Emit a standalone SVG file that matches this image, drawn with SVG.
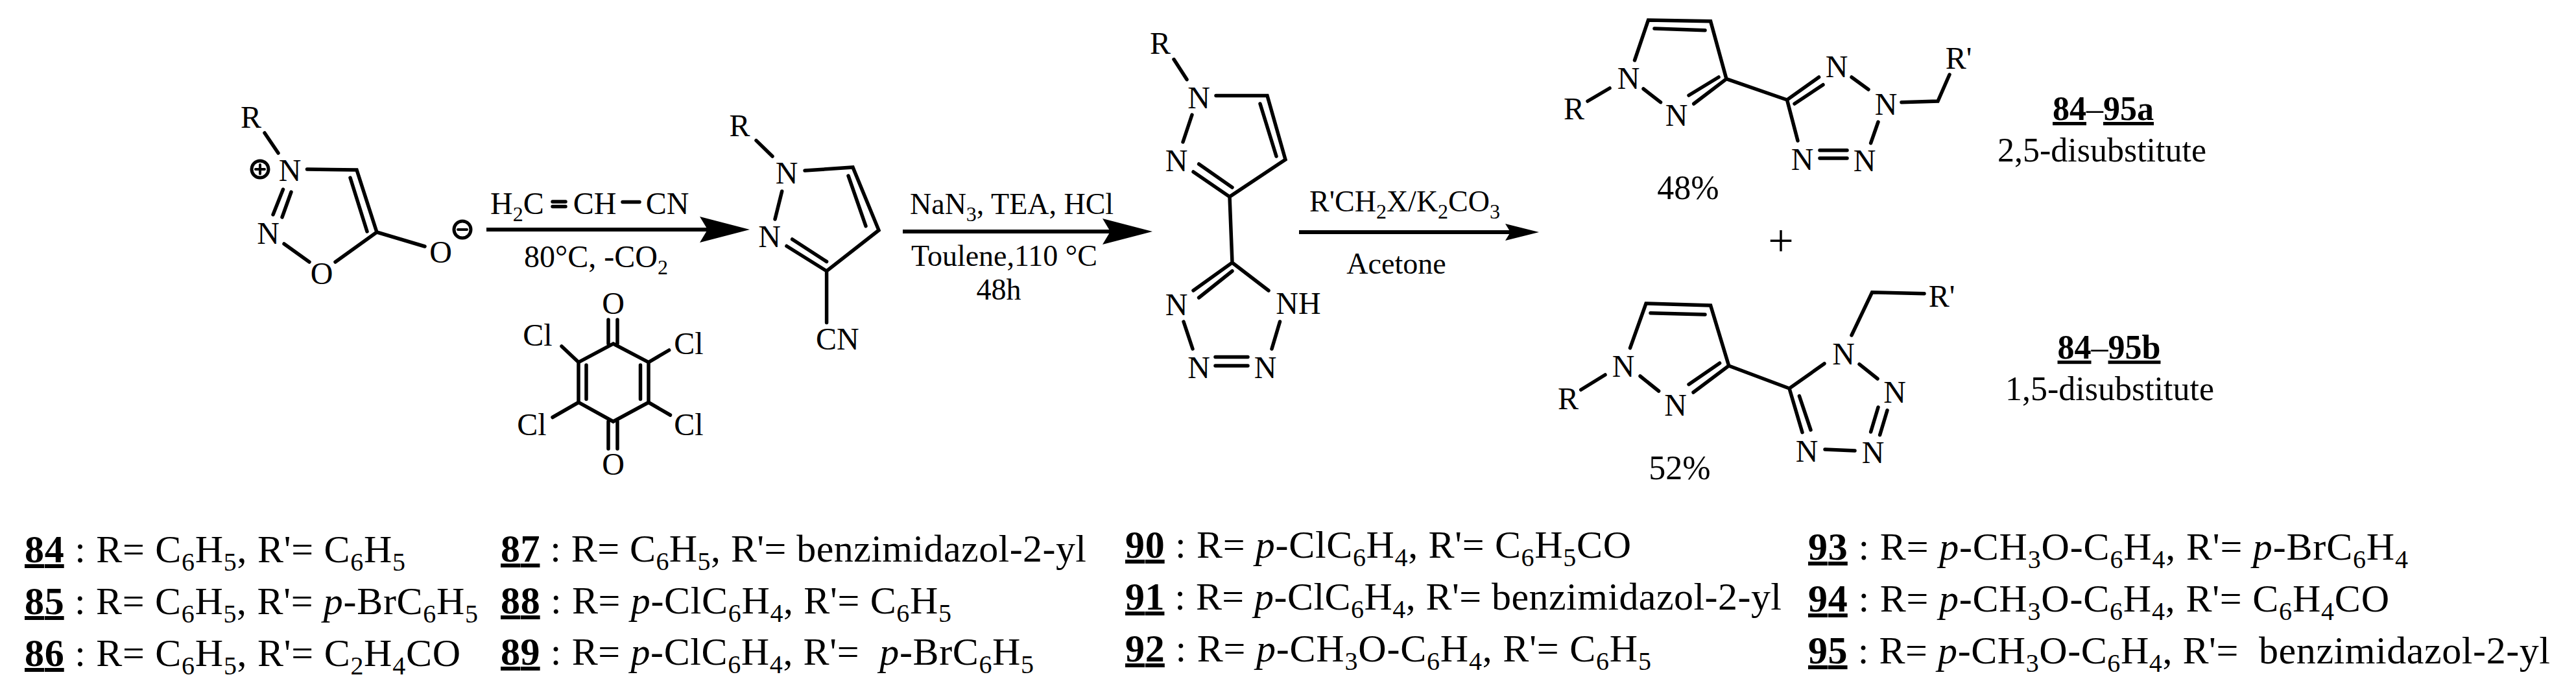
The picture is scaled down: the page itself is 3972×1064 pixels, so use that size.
<svg xmlns="http://www.w3.org/2000/svg" width="3972" height="1064" viewBox="0 0 3972 1064">
<style>
text{font-family:"Liberation Serif","Times New Roman",serif;fill:#000}
.a{font-size:48px;text-anchor:middle}
.r{font-size:46px}
.m{font-size:46px;text-anchor:middle}
.c{font-size:52px;text-anchor:middle}
.row{font-size:60px}
.b{font-weight:bold;text-decoration:underline;text-decoration-thickness:6px;text-underline-offset:5px}
.i{font-style:italic}
.s{font-size:40px}
.u{font-size:32px}
.bond{fill:none;stroke:#000;stroke-width:5.5;stroke-linecap:round;stroke-linejoin:miter}
.ch{fill:#fff;stroke:#000;stroke-width:5}
.arr{stroke:#000;stroke-width:6;fill:none}
.head{fill:#000}
</style>
<defs>
<marker id="big" markerUnits="userSpaceOnUse" markerWidth="78" markerHeight="40" refX="12" refY="20" orient="auto"><path class="head" d="M0,0L77,20L0,40L12,20Z"/></marker>
<marker id="small" markerUnits="userSpaceOnUse" markerWidth="54" markerHeight="28" refX="8" refY="14" orient="auto"><path class="head" d="M0,1L52,14L0,27L8,14Z"/></marker>
</defs>
<rect width="3972" height="1064" fill="#fff"/>
<g id="connectors">
<line class="arr" x1="750" y1="354" x2="1091" y2="354" marker-end="url(#big)"/>
<line class="arr" x1="1392" y1="357" x2="1712" y2="357" marker-end="url(#big)"/>
<line class="arr" x1="2003" y1="358" x2="2329" y2="358" marker-end="url(#small)"/>
</g>
<g id="sydnone">
<path class="bond" d="M408,205L429,236M473.5,261L550,262L581,358L655,380M540,274L566,357M581,358L517,404M438,376L477,404M436.5,292L421,331M449,296L435,335"/>
<text class="a" x="387" y="197">R</text><text class="a" x="447" y="279">N</text><text class="a" x="413.5" y="376">N</text><text class="a" x="496" y="438">O</text><text class="a" x="679.5" y="405">O</text>
<circle class="ch" cx="401" cy="261" r="13"/><path class="bond" style="stroke-width:4" d="M394,261H408M401,254V268"/>
<circle class="ch" cx="713" cy="354" r="13"/><path class="bond" style="stroke-width:4" d="M706,354H720"/>
</g>
<g id="reagent-acrylonitrile">
<text class="a" x="756" y="330" style="text-anchor:start">H<tspan class="u" dy="11">2</tspan><tspan dy="-11">C</tspan></text>
<path class="bond" d="M852,311H872M852,318.5H872M960,311.6H986"/>
<text class="a" x="917" y="330">CH</text><text class="a" x="1029" y="330">CN</text>
<text class="a" x="808" y="412" style="text-anchor:start">80°C, -CO<tspan class="u" dy="11">2</tspan></text>
</g>
<g id="chloranil">
<path class="bond" d="M945.5,530L1000,558.6V620.5L945.5,650L892,620.5V558.6ZM987.5,563V615.5M904,563V615.5M938,493V530M952,493V530M938,650V692M952,650V692M866,534L892,558.6M1000,558.6L1031.6,540M892,620.5L852,643.5M1000,620.5L1033.5,640"/>
<text class="a" x="945.5" y="484">O</text><text class="a" x="829" y="533">Cl</text><text class="a" x="1062" y="546">Cl</text><text class="a" x="820" y="671">Cl</text><text class="a" x="1062" y="671">Cl</text><text class="a" x="945.5" y="732">O</text>
</g>
<g id="pyrazole-nitrile">
<path class="bond" d="M1166,216.6L1191,241M1241,263L1315,258L1355,355L1274.6,418L1213,379.5M1308,271L1335,348.6M1221.6,369L1274.6,403.4M1205.7,295L1195,338M1274.6,418V497.5"/>
<text class="a" x="1140.6" y="210">R</text><text class="a" x="1213" y="283">N</text><text class="a" x="1186.5" y="381">N</text><text class="a" x="1258" y="539" style="text-anchor:start">CN</text>
</g>
<g id="label-step2">
<text class="r" x="1403" y="330">NaN<tspan class="u" dy="11">3</tspan><tspan dy="-11">, TEA, HCl</tspan></text>
<text class="r" x="1405" y="410">Toulene,110 °C</text>
<text class="m" x="1540" y="462">48h</text>
</g>
<g id="tetrazole-nh">
<path class="bond" d="M1810,91.6L1830,122.6M1875,147.5H1954L1982,246L1896,303.4L1840,265M1943,160L1968,241M1900,289L1848.6,253M1838,177L1824,219M1896,303.4L1900,405L1840,448M1900,418L1848.6,459M1900,405L1956,448M1825,496L1839,538M1973.5,496L1961,538M1874,550.5H1924M1874,564H1924"/>
<text class="a" x="1789" y="83">R</text><text class="a" x="1848.6" y="167">N</text><text class="a" x="1814" y="264">N</text><text class="a" x="1814" y="486">N</text><text class="a" x="2002" y="484">NH</text><text class="a" x="1848.6" y="583">N</text><text class="a" x="1951" y="583">N</text>
</g>
<g id="label-step3">
<text class="r" x="2019" y="326">R'CH<tspan class="u" dy="11">2</tspan><tspan dy="-11">X/K</tspan><tspan class="u" dy="11">2</tspan><tspan dy="-11">CO</tspan><tspan class="u" dy="11">3</tspan></text>
<text class="m" x="2153" y="422">Acetone</text>
</g>
<g id="product-a">
<path class="bond" d="M2448,156L2482,136M2520.5,93L2541.5,31L2637.6,32.7L2662,121.7L2611.7,160M2551,44L2629,46.7M2650,119L2604,147M2534,137L2560.5,157.7M2662,121.7L2755.5,154L2804.6,119M2767,160L2811,130.7M2855,119L2881,138M2932,157.7L2988,156L3006,115M2896,188L2884.6,220.7M2755.5,154L2772,217M2806,231.7H2848M2806,244H2848"/>
<text class="a" x="2427" y="184">R</text><text class="a" x="2511" y="137">N</text><text class="a" x="2585" y="194">N</text><text class="a" x="2832" y="119">N</text><text class="a" x="2908" y="177">N</text><text class="a" x="2779" y="262">N</text><text class="a" x="2875" y="264">N</text><text class="a" x="3020" y="106">R'</text>
<text class="c" x="2603" y="307">48%</text>
<text class="c" x="3243" y="185"><tspan class="b">84</tspan>–<tspan class="b">95a</tspan></text>
<text class="c" x="3241" y="249">2,5-disubstitute</text>
</g>
<text class="c" x="2746" y="395" style="font-size:70px">+</text>
<g id="product-b">
<path class="bond" d="M2437.7,601L2475,578M2513.5,536.7L2538,468L2637.6,471L2665.7,564L2611,605M2545,482.7L2629,485M2651.6,560L2604,592.7M2529,580L2557.6,603M2665.7,564L2759,599L2813,560.7M2855,517L2886.6,450.7L2967,452.7M2867,561.7L2895,584M2896,628L2884.6,666M2910,632.7L2898.6,670.7M2759,599L2779,666.7M2774.4,610.7L2792,663M2814,693L2860,695"/>
<text class="a" x="2418" y="631">R</text><text class="a" x="2503" y="581">N</text><text class="a" x="2583.6" y="641">N</text><text class="a" x="2842.5" y="562">N</text><text class="a" x="2921.7" y="621">N</text><text class="a" x="2786" y="712">N</text><text class="a" x="2888" y="714">N</text><text class="a" x="2994" y="473">R'</text>
<text class="c" x="2590" y="739">52%</text>
<text class="c" x="3252" y="553"><tspan class="b">84</tspan>–<tspan class="b">95b</tspan></text>
<text class="c" x="3253" y="617">1,5-disubstitute</text>
</g>
<g id="legend">
<text class="row" x="38" y="867" textLength="587"><tspan class="b">84</tspan> : R= C<tspan class="s" dy="13">6</tspan><tspan dy="-13">H</tspan><tspan class="s" dy="13">5</tspan><tspan dy="-13">, R'= C</tspan><tspan class="s" dy="13">6</tspan><tspan dy="-13">H</tspan><tspan class="s" dy="13">5</tspan></text>
<text class="row" x="38" y="947" textLength="699"><tspan class="b">85</tspan> : R= C<tspan class="s" dy="13">6</tspan><tspan dy="-13">H</tspan><tspan class="s" dy="13">5</tspan><tspan dy="-13">, R'= </tspan><tspan class="i">p</tspan>-BrC<tspan class="s" dy="13">6</tspan><tspan dy="-13">H</tspan><tspan class="s" dy="13">5</tspan></text>
<text class="row" x="38" y="1027" textLength="672"><tspan class="b">86</tspan> : R= C<tspan class="s" dy="13">6</tspan><tspan dy="-13">H</tspan><tspan class="s" dy="13">5</tspan><tspan dy="-13">, R'= C</tspan><tspan class="s" dy="13">2</tspan><tspan dy="-13">H</tspan><tspan class="s" dy="13">4</tspan><tspan dy="-13">CO</tspan></text>
<text class="row" x="772" y="866" textLength="903"><tspan class="b">87</tspan> : R= C<tspan class="s" dy="13">6</tspan><tspan dy="-13">H</tspan><tspan class="s" dy="13">5</tspan><tspan dy="-13">, R'= benzimidazol-2-yl</tspan></text>
<text class="row" x="772" y="946" textLength="695"><tspan class="b">88</tspan> : R= <tspan class="i">p</tspan>-ClC<tspan class="s" dy="13">6</tspan><tspan dy="-13">H</tspan><tspan class="s" dy="13">4</tspan><tspan dy="-13">, R'= C</tspan><tspan class="s" dy="13">6</tspan><tspan dy="-13">H</tspan><tspan class="s" dy="13">5</tspan></text>
<text class="row" x="772" y="1025" textLength="822"><tspan class="b">89</tspan> : R= <tspan class="i">p</tspan>-ClC<tspan class="s" dy="13">6</tspan><tspan dy="-13">H</tspan><tspan class="s" dy="13">4</tspan><tspan dy="-13">, R'=&#160; </tspan><tspan class="i">p</tspan>-BrC<tspan class="s" dy="13">6</tspan><tspan dy="-13">H</tspan><tspan class="s" dy="13">5</tspan></text>
<text class="row" x="1735" y="860" textLength="780"><tspan class="b">90</tspan> : R= <tspan class="i">p</tspan>-ClC<tspan class="s" dy="13">6</tspan><tspan dy="-13">H</tspan><tspan class="s" dy="13">4</tspan><tspan dy="-13">, R'= C</tspan><tspan class="s" dy="13">6</tspan><tspan dy="-13">H</tspan><tspan class="s" dy="13">5</tspan><tspan dy="-13">CO</tspan></text>
<text class="row" x="1735" y="940" textLength="1012"><tspan class="b">91</tspan> : R= <tspan class="i">p</tspan>-ClC<tspan class="s" dy="13">6</tspan><tspan dy="-13">H</tspan><tspan class="s" dy="13">4</tspan><tspan dy="-13">, R'= benzimidazol-2-yl</tspan></text>
<text class="row" x="1735" y="1020" textLength="811"><tspan class="b">92</tspan> : R= <tspan class="i">p</tspan>-CH<tspan class="s" dy="13">3</tspan><tspan dy="-13">O-C</tspan><tspan class="s" dy="13">6</tspan><tspan dy="-13">H</tspan><tspan class="s" dy="13">4</tspan><tspan dy="-13">, R'= C</tspan><tspan class="s" dy="13">6</tspan><tspan dy="-13">H</tspan><tspan class="s" dy="13">5</tspan></text>
<text class="row" x="2788" y="863" textLength="925"><tspan class="b">93</tspan> : R= <tspan class="i">p</tspan>-CH<tspan class="s" dy="13">3</tspan><tspan dy="-13">O-C</tspan><tspan class="s" dy="13">6</tspan><tspan dy="-13">H</tspan><tspan class="s" dy="13">4</tspan><tspan dy="-13">, R'= </tspan><tspan class="i">p</tspan>-BrC<tspan class="s" dy="13">6</tspan><tspan dy="-13">H</tspan><tspan class="s" dy="13">4</tspan></text>
<text class="row" x="2788" y="943" textLength="896"><tspan class="b">94</tspan> : R= <tspan class="i">p</tspan>-CH<tspan class="s" dy="13">3</tspan><tspan dy="-13">O-C</tspan><tspan class="s" dy="13">6</tspan><tspan dy="-13">H</tspan><tspan class="s" dy="13">4</tspan><tspan dy="-13">, R'= C</tspan><tspan class="s" dy="13">6</tspan><tspan dy="-13">H</tspan><tspan class="s" dy="13">4</tspan><tspan dy="-13">CO</tspan></text>
<text class="row" x="2788" y="1023" textLength="1144"><tspan class="b">95</tspan> : R= <tspan class="i">p</tspan>-CH<tspan class="s" dy="13">3</tspan><tspan dy="-13">O-C</tspan><tspan class="s" dy="13">6</tspan><tspan dy="-13">H</tspan><tspan class="s" dy="13">4</tspan><tspan dy="-13">, R'=&#160; benzimidazol-2-yl</tspan></text>
</g>
</svg>
